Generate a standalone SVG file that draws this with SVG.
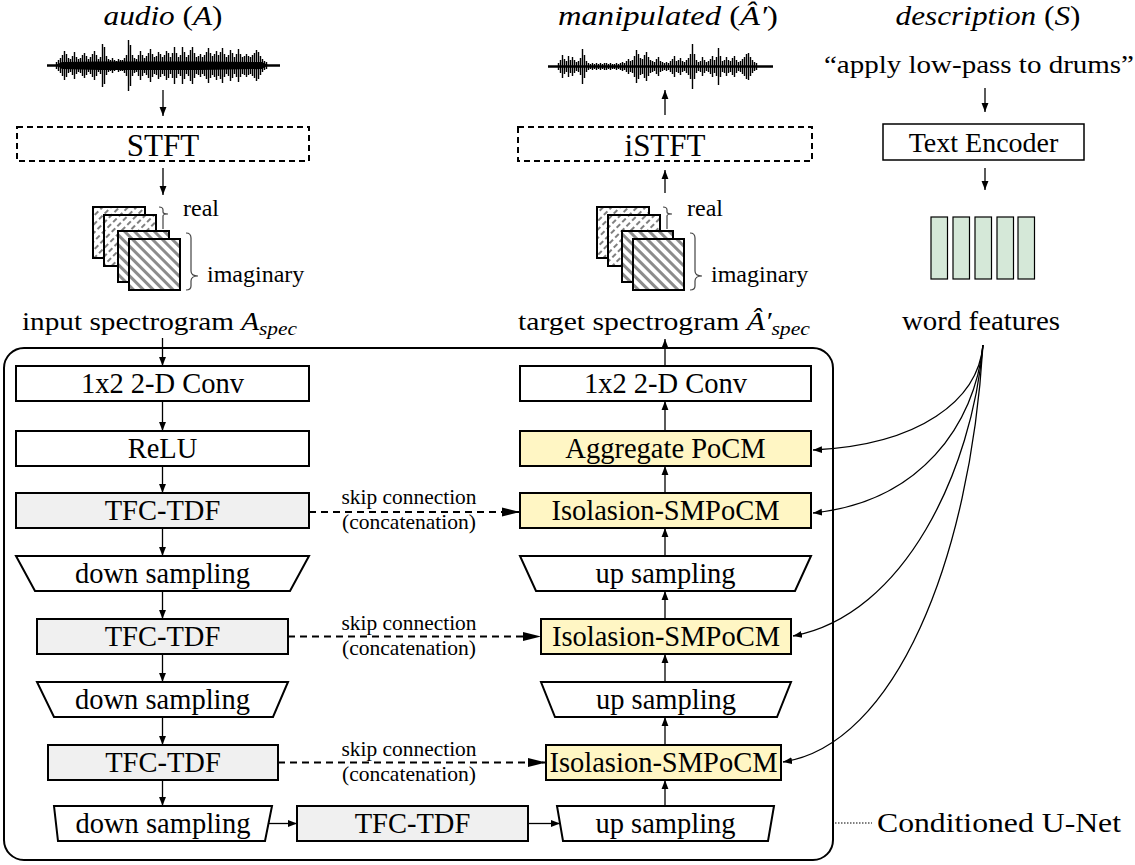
<svg xmlns="http://www.w3.org/2000/svg" width="1135" height="865" viewBox="0 0 1135 865" font-family="'Liberation Serif','Times New Roman',serif">
<style>
text{font-family:"Liberation Serif","Times New Roman",serif;fill:#000}
.box{stroke:#000;stroke-width:2;fill:#fff}
.gray{fill:#f0f0f0}
.yel{fill:#fff6c4}
.lbl{font-size:28.5px;text-anchor:middle}
.skip{font-size:21px;text-anchor:middle}
.ln{stroke:#000;stroke-width:1.3;fill:none}
.dash{stroke:#000;stroke-width:2;fill:none;stroke-dasharray:7,5}
.wave{stroke:#000;stroke-width:1.4;fill:none}
.sq{stroke:#000;stroke-width:2}
.brace{stroke:#444;stroke-width:1.2;fill:none}
</style>
<defs>
<marker id="ah" viewBox="0 0 10 10" refX="10" refY="5" markerWidth="9" markerHeight="9" markerUnits="userSpaceOnUse" orient="auto"><path d="M0,1.2 L10,5 L0,8.8 z" fill="#000"/></marker>
<marker id="ahd" viewBox="0 0 18 10" refX="18" refY="5" markerWidth="18" markerHeight="10" markerUnits="userSpaceOnUse" orient="auto"><path d="M0,0.5 L18,5 L0,9.5 z" fill="#000"/></marker>
<pattern id="hr" patternUnits="userSpaceOnUse" width="6" height="8" patternTransform="rotate(45)"><rect width="6" height="8" fill="#fff"/><line x1="3" y1="0" x2="3" y2="8" stroke="#000" stroke-width="1" stroke-dasharray="5,3"/></pattern>
<pattern id="hi" patternUnits="userSpaceOnUse" width="7" height="7" patternTransform="rotate(-45)"><rect width="7" height="7" fill="#fff"/><rect width="3" height="7" fill="#8c8c8c"/></pattern>
</defs>

<!-- titles -->
<text x="163" y="25" text-anchor="middle" font-size="27" textLength="119" lengthAdjust="spacingAndGlyphs"><tspan font-style="italic">audio</tspan> (<tspan font-style="italic">A</tspan>)</text>
<text x="668" y="25" text-anchor="middle" font-size="27" textLength="220" lengthAdjust="spacingAndGlyphs"><tspan font-style="italic">manipulated</tspan> (<tspan font-style="italic">Â′</tspan>)</text>
<text x="988" y="25" text-anchor="middle" font-size="27" textLength="185" lengthAdjust="spacingAndGlyphs"><tspan font-style="italic">description</tspan> (<tspan font-style="italic">S</tspan>)</text>

<!-- waveforms -->
<g id="wave-in">
<line x1="47" y1="65.5" x2="280" y2="65.5" stroke="#000" stroke-width="2.5"/>
<polygon points="56,65 62,62 100,61.5 150,61.5 200,61.5 262,62 268,65 262,69 200,70 150,70 100,70 62,69" fill="#000"/>
<path class="wave" transform="translate(0.5,0)" d="M56 62V69M58 60V71M60 58V73M62 55V76M64 51V80M66 54V77M68 58V73M70 59V72M72 56V75M74 52V79M76 57V74M78 59V72M80 58V73M82 55V76M84 53V78M86 56V75M88 59V72M90 57V74M92 54V77M94 51V80M96 55V76M98 59V72M100 57V74M102 44V87M104 47V84M106 56V75M108 59V72M110 60V71M112 58V73M114 60V71M116 61V70M118 59V72M120 60V71M122 60V71M124 58V73M126 55V76M128 40V91M130 45V86M132 55V76M134 58V73M136 59V72M138 55V76M140 51V80M142 55V76M144 58V73M146 56V75M148 53V78M150 49V82M152 54V77M154 57V74M156 56V75M158 52V79M160 54V77M162 57V74M164 55V76M166 51V80M168 53V78M170 57V74M172 53V78M174 47V84M176 53V78M178 57V74M180 55V76M182 47V84M184 52V79M186 57V74M188 55V76M190 50V81M192 47V84M194 53V78M196 57V74M198 56V75M200 54V77M202 57V74M204 55V76M206 52V79M208 48V83M210 53V78M212 56V75M214 54V77M216 51V80M218 55V76M220 52V79M222 48V83M224 54V77M226 57V74M228 55V76M230 50V81M232 53V78M234 57V74M236 54V77M238 49V82M240 54V77M242 57V74M244 56V75M246 54V77M248 56V75M250 57V74M252 55V76M254 53V78M256 50V81M258 52V79M260 56V75M262 59V72M264 61V70M266 62V69"/>
</g>
<g id="wave-out">
<line x1="548" y1="66.5" x2="773" y2="66.5" stroke="#000" stroke-width="2.5"/>
<path class="wave" transform="translate(0.5,0)" d="M558 63V70M560 60V73M562 55V78M564 59V74M566 61V72M568 56V77M570 60V73M572 57V76M574 60V73M576 62V71M578 61V72M580 58V75M582 49V84M584 55V78M586 61V72M588 63V70M590 64V69M592 63V70M594 64V69M596 63V70M598 64V69M600 63V70M602 64V69M604 63V70M606 63V70M608 64V69M610 63V70M612 64V69M614 64V69M616 63V70M618 64V69M620 63V70M622 62V71M624 63V70M626 61V72M628 59V74M630 61V72M632 60V73M634 56V77M636 50V83M638 54V79M640 58V75M642 59V74M644 55V78M646 52V81M648 57V76M650 60V73M652 61V72M654 62V71M656 59V74M658 57V76M660 61V72M662 62V71M664 63V70M666 62V71M668 63V70M670 61V72M672 59V74M674 56V77M676 61V72M678 60V73M680 58V75M682 61V72M684 62V71M686 60V73M688 58V75M690 54V79M692 44V89M694 54V79M696 60V73M698 62V71M700 61V72M702 57V76M704 60V73M706 62V71M708 61V72M710 59V74M712 56V77M714 60V73M716 57V76M718 48V85M720 56V77M722 61V72M724 60V73M726 57V76M728 60V73M730 61V72M732 58V75M734 56V77M736 60V73M738 62V71M740 61V72M742 59V74M744 57V76M746 54V79M748 53V80M750 57V76M752 60V73M754 62V71M756 63V70"/>
</g>

<!-- STFT / iSTFT / Text encoder -->
<g id="stft">
<rect x="17" y="127" width="292" height="34" fill="#fff" stroke="#000" stroke-width="2" stroke-dasharray="6,4"/>
<text x="163" y="155.5" text-anchor="middle" font-size="31">STFT</text>
</g>
<g id="istft">
<rect x="518" y="127" width="294" height="34" fill="#fff" stroke="#000" stroke-width="2" stroke-dasharray="6,4"/>
<text x="665" y="155.5" text-anchor="middle" font-size="31">iSTFT</text>
</g>
<g id="desc">
<text x="979" y="73" text-anchor="middle" font-size="26" textLength="310" lengthAdjust="spacingAndGlyphs">“apply low-pass to drums”</text>
</g>
<g id="text-encoder">
<rect x="883" y="124" width="201" height="36" fill="#fff" stroke="#000" stroke-width="1.5"/>
<text x="983.5" y="152" text-anchor="middle" font-size="28">Text Encoder</text>
</g>
<g id="word-features">
<g fill="#d5e8d8" stroke="#000" stroke-width="1.2">
<rect x="931" y="217" width="16.5" height="62"/>
<rect x="953" y="217" width="16.5" height="62"/>
<rect x="975" y="217" width="16.5" height="62"/>
<rect x="997" y="217" width="16.5" height="62"/>
<rect x="1018" y="217" width="16.5" height="62"/>
</g>
<text x="981" y="330" text-anchor="middle" font-size="27" textLength="158" lengthAdjust="spacingAndGlyphs">word features</text>
</g>

<!-- spectrogram stacks -->
<g id="spec-in">
<rect class="sq" x="93" y="207" width="52" height="51" fill="url(#hr)"/>
<rect class="sq" x="104" y="215" width="52" height="51" fill="url(#hr)"/>
<rect class="sq" x="118" y="231" width="51" height="51" fill="url(#hi)"/>
<rect class="sq" x="129" y="239" width="51" height="51" fill="url(#hi)"/>
<path class="brace" d="M159,207 Q163,207 163,210 L163,212 Q163,214 168,214 Q163,214 163,216 L163,229"/>
<path class="brace" d="M186,233 Q191,233 191,238 L191,271 Q191,276 198,276 Q191,276 191,281 L191,286 Q191,290 186,290"/>
<text x="183" y="216" font-size="24">real</text>
<text x="207" y="282" font-size="24">imaginary</text>
<text x="22" y="330" font-size="26" textLength="275" lengthAdjust="spacingAndGlyphs">input spectrogram <tspan font-style="italic">A</tspan><tspan font-style="italic" font-size="19" dy="5">spec</tspan></text>
</g>
<g id="spec-out">
<rect class="sq" x="597" y="207" width="52" height="51" fill="url(#hr)"/>
<rect class="sq" x="608" y="215" width="52" height="51" fill="url(#hr)"/>
<rect class="sq" x="622" y="231" width="51" height="51" fill="url(#hi)"/>
<rect class="sq" x="633" y="239" width="51" height="51" fill="url(#hi)"/>
<path class="brace" d="M663,207 Q667,207 667,210 L667,212 Q667,214 672,214 Q667,214 667,216 L667,229"/>
<path class="brace" d="M690,233 Q695,233 695,238 L695,271 Q695,276 702,276 Q695,276 695,281 L695,286 Q695,290 690,290"/>
<text x="687" y="216" font-size="24">real</text>
<text x="711" y="282" font-size="24">imaginary</text>
<text x="518" y="330" font-size="26" textLength="292" lengthAdjust="spacingAndGlyphs">target spectrogram <tspan font-style="italic">Â′</tspan><tspan font-style="italic" font-size="19" dy="5">spec</tspan></text>
</g>

<!-- U-Net container -->
<g id="unet">
<rect x="4" y="348" width="829" height="512" rx="20" fill="none" stroke="#000" stroke-width="2"/>
<line x1="835" y1="823" x2="872" y2="823" stroke="#000" stroke-width="1.2" stroke-dasharray="1.5,1.5"/>
<text x="877" y="832" font-size="28" textLength="244" lengthAdjust="spacingAndGlyphs">Conditioned U-Net</text>
</g>

<!-- encoder -->
<g id="enc-conv"><rect class="box" x="16" y="366" width="293" height="35"/><text class="lbl" x="162.5" y="393">1x2 2-D Conv</text></g>
<g id="enc-relu"><rect class="box" x="16" y="431" width="293" height="35"/><text class="lbl" x="162.5" y="458">ReLU</text></g>
<g id="enc-tfc1"><rect class="box gray" x="16" y="493" width="293" height="35"/><text class="lbl" x="162.5" y="520">TFC-TDF</text></g>
<g id="enc-ds1"><polygon class="box" points="16,556 309,556 290,591 35,591"/><text class="lbl" x="162.5" y="583">down sampling</text></g>
<g id="enc-tfc2"><rect class="box gray" x="37" y="619" width="251" height="35"/><text class="lbl" x="162.5" y="646">TFC-TDF</text></g>
<g id="enc-ds2"><polygon class="box" points="37,682 288,682 273,717 54,717"/><text class="lbl" x="162.5" y="709">down sampling</text></g>
<g id="enc-tfc3"><rect class="box gray" x="48" y="745" width="230" height="35"/><text class="lbl" x="163" y="772">TFC-TDF</text></g>
<g id="enc-ds3"><polygon class="box" points="54,806 272,806 265,841 58,841"/><text class="lbl" x="163" y="833">down sampling</text></g>
<g id="bottleneck"><rect class="box gray" x="297" y="806" width="231" height="35"/><text class="lbl" x="412.5" y="833">TFC-TDF</text></g>

<!-- decoder -->
<g id="dec-conv"><rect class="box" x="520" y="366" width="291" height="35"/><text class="lbl" x="665.5" y="393">1x2 2-D Conv</text></g>
<g id="dec-agg"><rect class="box yel" x="520" y="431" width="291" height="35"/><text class="lbl" x="665.5" y="458">Aggregate PoCM</text></g>
<g id="dec-iso1"><rect class="box yel" x="520" y="493" width="291" height="35"/><text class="lbl" x="665.5" y="520">Isolasion-SMPoCM</text></g>
<g id="dec-up1"><polygon class="box" points="520,556 811,556 795,591 536,591"/><text class="lbl" x="665.5" y="583">up sampling</text></g>
<g id="dec-iso2"><rect class="box yel" x="541" y="619" width="250" height="35"/><text class="lbl" x="666" y="646">Isolasion-SMPoCM</text></g>
<g id="dec-up2"><polygon class="box" points="541,682 791,682 777,717 555,717"/><text class="lbl" x="666" y="709">up sampling</text></g>
<g id="dec-iso3"><rect class="box yel" x="546" y="745" width="235" height="35"/><text class="lbl" x="663.5" y="772">Isolasion-SMPoCM</text></g>
<g id="dec-up3"><polygon class="box" points="557,806 774,806 768,841 563,841"/><text class="lbl" x="665.5" y="833">up sampling</text></g>

<!-- connectors -->
<g id="connectors">
<g class="ln" marker-end="url(#ah)">
<line x1="163" y1="90" x2="163" y2="116"/>
<line x1="163" y1="168" x2="163" y2="195"/>
<line x1="665" y1="115" x2="665" y2="90"/>
<line x1="665" y1="193" x2="665" y2="170"/>
<line x1="985" y1="88" x2="985" y2="112"/>
<line x1="985" y1="168" x2="985" y2="190"/>
<line x1="162.5" y1="338" x2="162.5" y2="366"/>
<line x1="162.5" y1="401" x2="162.5" y2="431"/>
<line x1="162.5" y1="466" x2="162.5" y2="493"/>
<line x1="162.5" y1="528" x2="162.5" y2="556"/>
<line x1="162.5" y1="591" x2="162.5" y2="619"/>
<line x1="162.5" y1="654" x2="162.5" y2="682"/>
<line x1="162.5" y1="717" x2="162.5" y2="745"/>
<line x1="162.5" y1="780" x2="162.5" y2="806"/>
<line x1="269" y1="823.5" x2="297" y2="823.5"/>
<line x1="528" y1="823.5" x2="560" y2="823.5"/>
<line x1="665" y1="806" x2="665" y2="780"/>
<line x1="665" y1="745" x2="665" y2="717"/>
<line x1="665" y1="682" x2="665" y2="654"/>
<line x1="665" y1="619" x2="665" y2="591"/>
<line x1="665" y1="556" x2="665" y2="528"/>
<line x1="665" y1="493" x2="665" y2="466"/>
<line x1="665" y1="431" x2="665" y2="401"/>
<line x1="665" y1="366" x2="665" y2="339"/>
<path d="M983,345 C978,400 920,445 813,450"/>
<path d="M983,345 C975,425 920,502 813,513"/>
<path d="M983,345 C972,470 905,615 793,636"/>
<path d="M983,345 C970,560 895,745 783,762"/>
</g>
<g class="dash" marker-end="url(#ahd)">
<line x1="309" y1="512" x2="520" y2="512"/>
<line x1="288" y1="636.5" x2="541" y2="636.5"/>
<line x1="278" y1="762.5" x2="546" y2="762.5"/>
</g>
<text class="skip" x="409" y="504" textLength="135" lengthAdjust="spacingAndGlyphs">skip connection</text>
<text class="skip" x="409" y="529" textLength="134" lengthAdjust="spacingAndGlyphs">(concatenation)</text>
<text class="skip" x="409" y="630" textLength="135" lengthAdjust="spacingAndGlyphs">skip connection</text>
<text class="skip" x="409" y="655" textLength="134" lengthAdjust="spacingAndGlyphs">(concatenation)</text>
<text class="skip" x="409" y="756" textLength="135" lengthAdjust="spacingAndGlyphs">skip connection</text>
<text class="skip" x="409" y="781" textLength="134" lengthAdjust="spacingAndGlyphs">(concatenation)</text>
</g>
</svg>
